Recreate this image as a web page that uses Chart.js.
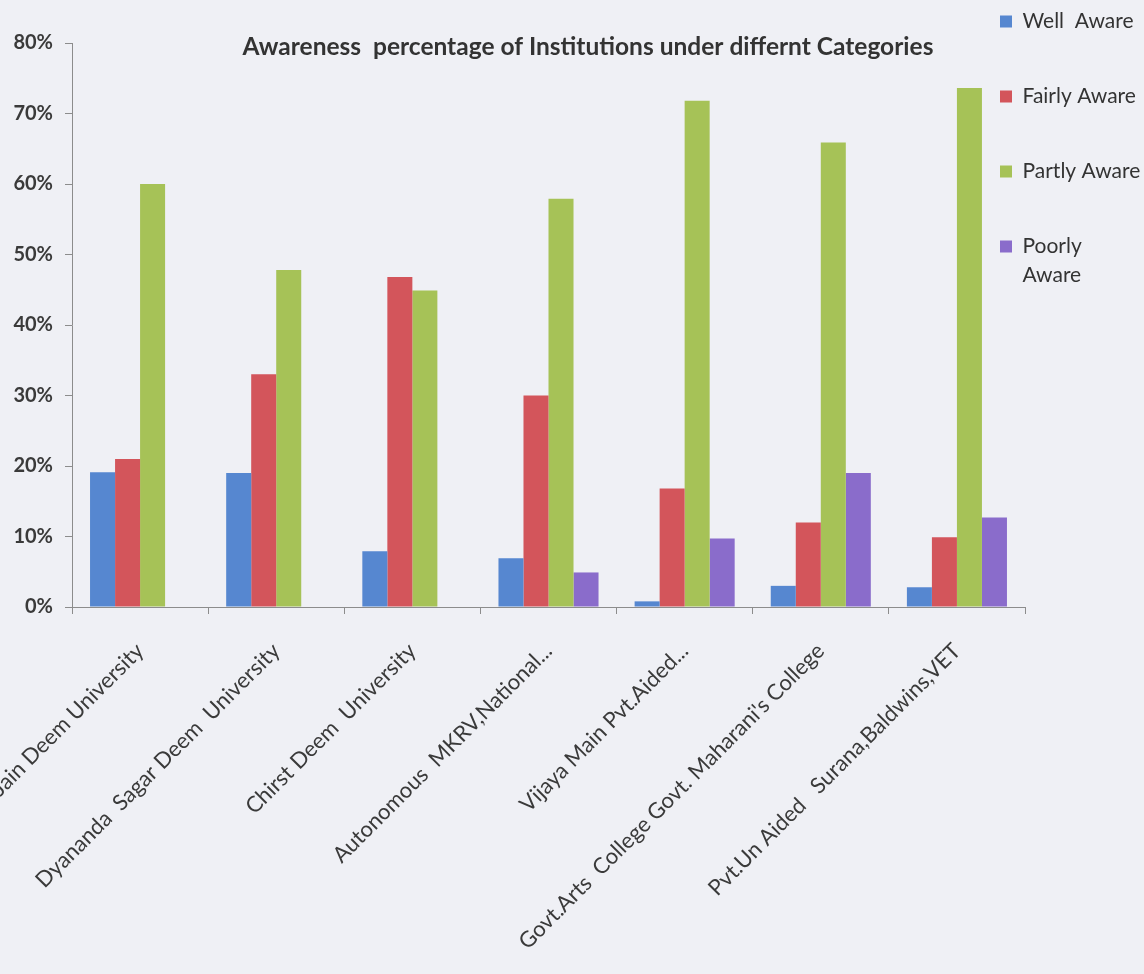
<!DOCTYPE html>
<html>
<head>
<meta charset="utf-8">
<title>Awareness percentage of Institutions</title>
<script src="https://cdn.jsdelivr.net/npm/chart.js@4.4.1/dist/chart.umd.min.js"></script>
<style>
  html, body { margin: 0; padding: 0; background: #eff0f5; }
  #wrap { position: relative; width: 1144px; height: 974px; }
</style>
</head>
<body>
<div id="wrap"><canvas id="chart"></canvas></div>
<script>
// Institution categories (x axis)
const categories = [
  'Jain Deem University',
  'Dyananda  Sagar Deem  University',
  'Chirst Deem  University',
  'Autonomous  MKRV,National...',
  'Vijaya Main Pvt.Aided...',
  'Govt.Arts  College Govt. Maharani\'s College',
  'Pvt.Un Aided   Surana,Baldwins,VET'
];

// Series names shown in the legend
const seriesNames = ['Well  Aware', 'Fairly Aware', 'Partly Aware', ['Poorly', 'Aware']];

// Percentage of respondents per awareness level
const wellAware   = [19.1, 19.0, 7.9, 6.9, 0.8, 3.0, 2.8];
const fairlyAware = [21.0, 33.0, 46.8, 30.0, 16.8, 12.0, 9.9];
const partlyAware = [60.0, 47.8, 44.9, 57.9, 71.8, 65.9, 73.6];
const poorlyAware = [0, 0, 0, 4.9, 9.7, 19.0, 12.7];

// Y axis tick values
const yTicks = [0, 10, 20, 30, 40, 50, 60, 70, 80];

const seriesValues = [wellAware, fairlyAware, partlyAware, poorlyAware];
const seriesColors = ['#5687d0', '#d3555b', '#a6c257', '#8a6ccb'];

const FONT = 'Lato, "Open Sans", sans-serif';
const TEXT = '#3a3a3a';
const AXIS = '#8c8c8c';

// The legend sits over the upper right corner of the plot, next to the tallest bars,
// and its box is widened so the labels run to the edge of the page
const legendOverlap = {
  id: 'legendOverlap',
  afterLayout(chart) {
    const lg = chart.legend;
    if (!lg) return;
    const shift = -79;
    const widen = 120;
    lg.left += shift;
    lg.right += shift + widen;
    lg.width = lg.right - lg.left;
  }
};

const ctx = document.getElementById('chart').getContext('2d');
new Chart(ctx, {
  type: 'bar',
  data: {
    labels: categories,
    datasets: seriesValues.map((vals, i) => ({
      label: seriesNames[i],
      data: vals,
      backgroundColor: seriesColors[i],
      borderWidth: 0,
      categoryPercentage: 0.735,
      barPercentage: 1.0
    }))
  },
  plugins: [legendOverlap],
  options: {
    responsive: true,
    maintainAspectRatio: false,
    animation: false,
    layout: { padding: { top: -43, left: 12, right: -20, bottom: 0 } },
    plugins: {
      tooltip: { enabled: false },
      title: {
        display: true,
        text: 'Awareness  percentage of Institutions under differnt Categories',
        color: '#333333',
        font: { family: FONT, size: 24.5, weight: 'bold', lineHeight: 1.2 },
        padding: { top: 75.3, bottom: -18.7 }
      },
      legend: {
        display: true,
        position: 'right',
        align: 'start',
        maxWidth: 139,
        labels: {
          boxWidth: 12,
          boxHeight: 12,
          padding: 54,
          color: '#333333',
          font: { family: FONT, size: 21, lineHeight: 1.38 }
        }
      }
    },
    scales: {
      x: {
        afterFit(scale) {
          scale.height = 367;
          scale.paddingLeft = 0;
          scale.paddingRight = 0;
        },
        grid: {
          display: true,
          offset: true,
          drawOnChartArea: false,
          drawTicks: true,
          tickLength: 7,
          color: AXIS
        },
        border: { display: true, color: AXIS, width: 1 },
        ticks: {
          autoSkip: false,
          maxRotation: 45,
          minRotation: 45,
          padding: 24,
          color: TEXT,
          font: { family: FONT, size: 22 }
        }
      },
      y: {
        min: 0,
        max: 80,
        afterFit(scale) { scale.width = 60; },
        afterBuildTicks(scale) { scale.ticks = yTicks.map(v => ({ value: v })); },
        grid: {
          display: true,
          drawOnChartArea: false,
          drawTicks: true,
          tickLength: 7,
          color: AXIS
        },
        border: { display: true, color: AXIS, width: 1 },
        ticks: {
          padding: 12,
          color: TEXT,
          font: { family: FONT, size: 20, weight: 'bold' },
          callback: v => v + '%'
        }
      }
    }
  }
});
</script>
</body>
</html>
